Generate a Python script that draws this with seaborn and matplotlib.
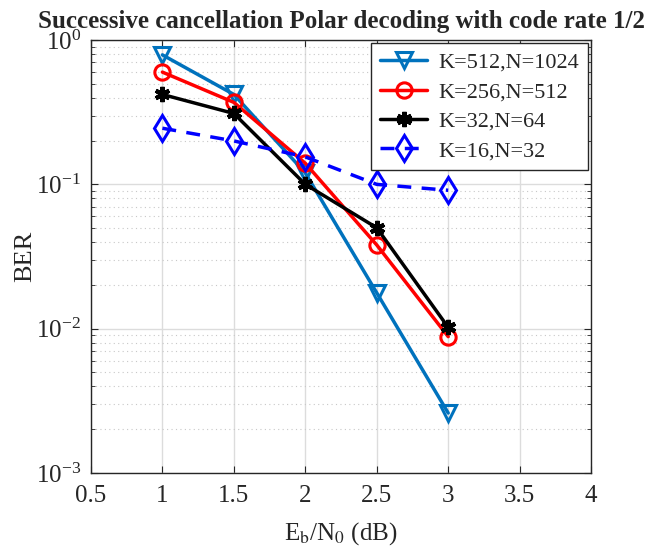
import numpy as np
import pandas as pd
import matplotlib
matplotlib.use("Agg")
import matplotlib.pyplot as plt
import seaborn as sns
from matplotlib.ticker import LogLocator, NullFormatter

ebn0 = [1, 1.5, 2, 2.5, 3]
ber_1024 = [0.79, 0.42, 0.12, 0.0177, 0.0026]
ber_512 = [0.60, 0.37, 0.14, 0.038, 0.0088]
ber_64 = [0.42, 0.31, 0.10, 0.050, 0.0102]
ber_32 = [0.245, 0.20, 0.155, 0.10, 0.091]
labels = ["K=512,N=1024", "K=256,N=512", "K=32,N=64", "K=16,N=32"]

sns.set_style("ticks")
plt.rcParams["font.family"] = ["Liberation Serif", "DejaVu Serif"]
plt.rcParams["mathtext.fontset"] = "stix"

fig = plt.figure(figsize=(6.59, 5.57), dpi=100)
ax = fig.add_axes([0.138, 0.151, 0.759, 0.777])

styles = [
    dict(color="#0072BD", marker="v", ms=12, mfc="none", mew=2.2, linestyle="-"),
    dict(color="#FF0000", marker="o", ms=11, mfc="none", mew=2.2, linestyle="-"),
    dict(color="#000000", marker=(6, 2, 0), ms=11, mew=3, linestyle="-"),
    dict(color="#0000FF", marker="d", ms=13, mfc="none", mew=2.2, linestyle=(0, (4, 3))),
]
for ys, lab, st in zip([ber_1024, ber_512, ber_64, ber_32], labels, styles):
    df = pd.DataFrame({"x": ebn0, "y": ys})
    sns.lineplot(data=df, x="x", y="y", ax=ax, label=lab, lw=2.5,
                 color=st["color"], marker=st["marker"], markersize=st["ms"],
                 markerfacecolor=st.get("mfc", st["color"]),
                 markeredgecolor=st["color"], markeredgewidth=st["mew"],
                 linestyle=st["linestyle"])

ax.set_yscale("log")
ax.set_xlim(0.5, 4)
ax.set_ylim(1e-3, 1)
ax.set_xticks([0.5, 1, 1.5, 2, 2.5, 3, 3.5, 4])
ax.set_xticklabels(["0.5", "1", "1.5", "2", "2.5", "3", "3.5", "4"])
ax.yaxis.set_major_locator(LogLocator(base=10, numticks=10))
ax.yaxis.set_minor_locator(LogLocator(base=10, subs=np.arange(2, 10), numticks=10))
ax.yaxis.set_minor_formatter(NullFormatter())
ax.grid(True, which="major", color="#dcdcdc", lw=1)
ax.grid(True, which="minor", axis="y", color="#c8c8c8", lw=0.8, linestyle=(0, (1, 3)))
ax.tick_params(which="both", direction="in", top=True, right=True, labelsize=18)
ax.tick_params(which="major", length=5)
ax.tick_params(which="minor", length=3)
ax.tick_params(axis="x", pad=9)
ax.tick_params(axis="y", pad=7)
for s in ax.spines.values():
    s.set_visible(True)
    s.set_color("#262626")
    s.set_linewidth(1)

ax.set_xlabel(r"E$_\mathrm{b}$/N$_0$ (dB)", fontsize=18, labelpad=9)
ax.set_ylabel("BER", fontsize=19, labelpad=0)
ax.set_title("Successive cancellation Polar decoding with code rate 1/2",
             fontsize=18, fontweight="bold", pad=9)
leg = ax.legend(loc="upper right", fontsize=16, frameon=True, fancybox=False,
                edgecolor="#262626", framealpha=1, borderaxespad=0.15,
                handlelength=2.1, labelspacing=0.4, borderpad=0.4, handletextpad=0.5)
leg.get_frame().set_linewidth(1)

fig.savefig("out.png", dpi=100)
